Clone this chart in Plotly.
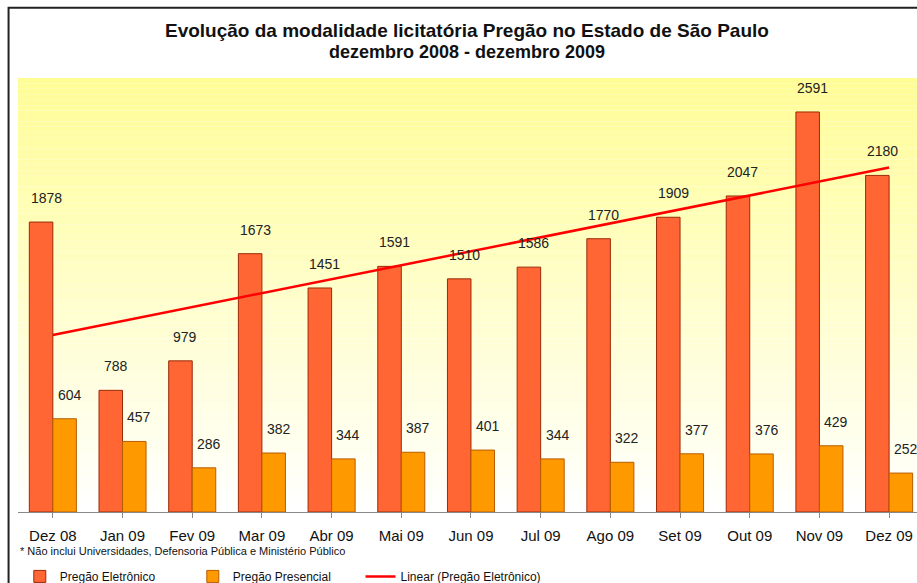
import numpy as np
import plotly.graph_objects as go

categories = ["Dez 08", "Jan 09", "Fev 09", "Mar 09", "Abr 09", "Mai 09", "Jun 09",
              "Jul 09", "Ago 09", "Set 09", "Out 09", "Nov 09", "Dez 09"]
eletronico = [1878, 788, 979, 1673, 1451, 1591, 1510, 1586, 1770, 1909, 2047, 2591, 2180]
presencial = [604, 457, 286, 382, 344, 387, 401, 344, 322, 377, 376, 429, 252]

title_1 = "Evolução da modalidade licitatória Pregão no Estado de São Paulo"
title_2 = "dezembro 2008 - dezembro 2009"
footnote = "* Não inclui Universidades, Defensoria Pública e Ministério Público"

FONT = "Liberation Sans, Arial, sans-serif"
idx = np.arange(len(categories))
slope, intercept = np.polyfit(idx, eletronico, 1)
trend = slope * idx + intercept

fig = go.Figure()
fig.add_trace(go.Bar(x=idx, y=eletronico, name="Pregão Eletrônico", legend="legend",
                     marker=dict(color="#FF6633", line=dict(color="#9A2A0A", width=1))))
fig.add_trace(go.Bar(x=idx, y=presencial, name="Pregão Presencial", legend="legend",
                     marker=dict(color="#FF9900", line=dict(color="#B85C00", width=1))))
fig.add_trace(go.Scatter(x=idx, y=trend, mode="lines", name="Linear (Pregão Eletrônico)",
                         legend="legend2", line=dict(color="#FF0000", width=2.5)))

# gradient background in plot area
n = 80
for k in range(n):
    t = k / (n - 1)
    g = int(round(253 + (255 - 253) * t))
    b = int(round(150 + (255 - 150) * t))
    fig.add_shape(type="rect", xref="x domain", yref="y domain",
                  x0=0, x1=1, y0=1 - (k + 1) / n, y1=1 - k / n,
                  fillcolor=f"rgb(255,{g},{b})", line=dict(width=0), layer="below")

# outer border
fig.add_shape(type="rect", xref="paper", yref="paper", x0=-0.0105, x1=1.02, y0=-0.2, y1=1.162,
              line=dict(color="#222222", width=2), fillcolor="rgba(0,0,0,0)", layer="above")

hw = 0.17
for i, (e, p) in enumerate(zip(eletronico, presencial)):
    fig.add_annotation(x=i - hw, y=e, text=str(e), showarrow=False, yanchor="bottom",
                       yshift=14, xshift=5, font=dict(family=FONT, size=14, color="#222222"))
    fig.add_annotation(x=i + hw, y=p, text=str(p), showarrow=False, yanchor="bottom",
                       yshift=14, xshift=5, font=dict(family=FONT, size=14, color="#222222"))

fig.add_annotation(xref="paper", yref="paper", x=0.4995, y=1.0, yshift=48, yanchor="middle",
                   text="<b>" + title_1 + "</b>",
                   showarrow=False, font=dict(family=FONT, size=19, color="#111111"), xanchor="center")
fig.add_annotation(xref="paper", yref="paper", x=0.4995, y=1.0, yshift=26, yanchor="middle",
                   text="<b>" + title_2 + "</b>",
                   showarrow=False, font=dict(family=FONT, size=18, color="#111111"), xanchor="center")
fig.add_annotation(xref="paper", yref="paper", x=0.0, y=0.0, yshift=-39, xanchor="left", yanchor="middle",
                   text=footnote, showarrow=False, font=dict(family=FONT, size=11, color="#111111"))

legend_common = dict(orientation="h", y=-0.115, xanchor="left", yanchor="top",
                     itemwidth=30, font=dict(family=FONT, size=12, color="#111111"),
                     bgcolor="rgba(0,0,0,0)")

fig.update_layout(
    width=917, height=583,
    margin=dict(l=18, r=0, t=78, b=71, autoexpand=False),
    paper_bgcolor="white", plot_bgcolor="rgba(0,0,0,0)",
    barmode="group", bargap=0.325, bargroupgap=0,
    showlegend=True,
    legend=dict(x=0.002, entrywidth=128, entrywidthmode="pixels", **legend_common),
    legend2=dict(x=0.381, **legend_common),
    xaxis=dict(range=[-0.5, 12.4], tickmode="array", tickvals=list(idx), ticktext=categories,
               showgrid=False, zeroline=False, showline=True, linecolor="#888888", linewidth=1,
               ticks="outside", ticklen=5, tickcolor="#888888",
               tickfont=dict(family=FONT, size=15, color="#111111"), ticklabelstandoff=5),
    yaxis=dict(range=[0, 2811], showgrid=False, zeroline=False, showline=False,
               showticklabels=False, ticks=""),
    font=dict(family=FONT),
)

fig.write_html("out.html")
